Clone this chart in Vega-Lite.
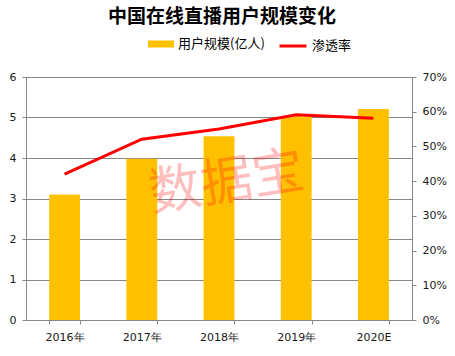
{
  "$schema": "https://vega.github.io/schema/vega-lite/v6.json",
  "width": 386,
  "height": 243,
  "autosize": "none",
  "padding": {"left": 26, "top": 77, "right": 43, "bottom": 36},
  "background": "white",
  "title": {"text": "中国在线直播用户规模变化", "font": "Noto Sans CJK SC", "fontSize": 19, "fontWeight": "bold", "color": "#000000", "anchor": "middle", "offset": 4, "dx": 3},
  "config": {
    "view": {"stroke": null},
    "axis": {"labelFont": "DejaVu Sans", "labelFontSize": 11, "labelColor": "#1a1a1a", "domainColor": "#868686", "tickColor": "#868686", "gridColor": "#868686", "gridOpacity": 1, "tickSize": 4},
    "legend": {"labelFont": "Noto Sans CJK SC", "labelFontSize": 13, "labelColor": "#000000", "padding": 0}
  },
  "data": {"values": [
    {"year": "2016年", "users": 3.1, "rate": 0.42},
    {"year": "2017年", "users": 3.98, "rate": 0.521},
    {"year": "2018年", "users": 4.54, "rate": 0.55},
    {"year": "2019年", "users": 5.03, "rate": 0.591},
    {"year": "2020E", "users": 5.21, "rate": 0.581}
  ]},
  "encoding": {
    "x": {"field": "year", "type": "nominal", "sort": null,
      "scale": {"paddingInner": 0.6, "paddingOuter": 0.3},
      "axis": {"title": null, "labelAngle": 0, "tickBand": "extent", "labelPadding": 7, "grid": false}}
  },
  "layer": [
    {
      "mark": {"type": "bar", "color": "#FFC000"},
      "encoding": {
        "y": {"field": "users", "type": "quantitative", "scale": {"domain": [0, 6]},
          "axis": {"title": null, "values": [0,1,2,3,4,5,6], "grid": true, "orient": "left", "labelPadding": 6}},
        "fill": {"datum": "用户规模(亿人)", "type": "nominal", "scale": {"range": ["#FFC000"]},
          "legend": {"title": null, "orient": "none", "legendX": 122, "legendY": -46, "symbolType": "M-1,-0.27H1V0.27H-1Z", "symbolSize": 676, "symbolStrokeWidth": 0, "symbolOpacity": 1}}
      }
    },
    {
      "mark": {"type": "line", "strokeWidth": 3, "color": "#FF0000"},
      "encoding": {
        "y": {"field": "rate", "type": "quantitative", "scale": {"domain": [0, 0.7]},
          "axis": {"title": null, "orient": "right", "format": ".0%", "values": [0,0.1,0.2,0.3,0.4,0.5,0.6,0.7], "grid": false, "labelPadding": 6}},
        "stroke": {"datum": "渗透率", "type": "nominal", "scale": {"range": ["#FF0000"]},
          "legend": {"title": null, "orient": "none", "legendX": 252, "legendY": -46, "symbolType": "stroke", "symbolSize": 729, "symbolStrokeWidth": 3}}
      }
    },
    {
      "data": {"values": [{"year": "2018年", "label": "数据宝", "pos": 3.35}]},
      "mark": {"type": "text", "font": "Noto Sans CJK SC", "fontSize": 52, "angle": -9, "color": "#FF0000", "opacity": 0.25, "baseline": "middle", "align": "center", "dx": 8},
      "encoding": {
        "text": {"field": "label"},
        "y": {"field": "pos", "type": "quantitative", "scale": {"domain": [0, 6]}, "axis": null}
      }
    }
  ],
  "resolve": {"scale": {"y": "independent", "fill": "independent", "stroke": "independent"}}
}
